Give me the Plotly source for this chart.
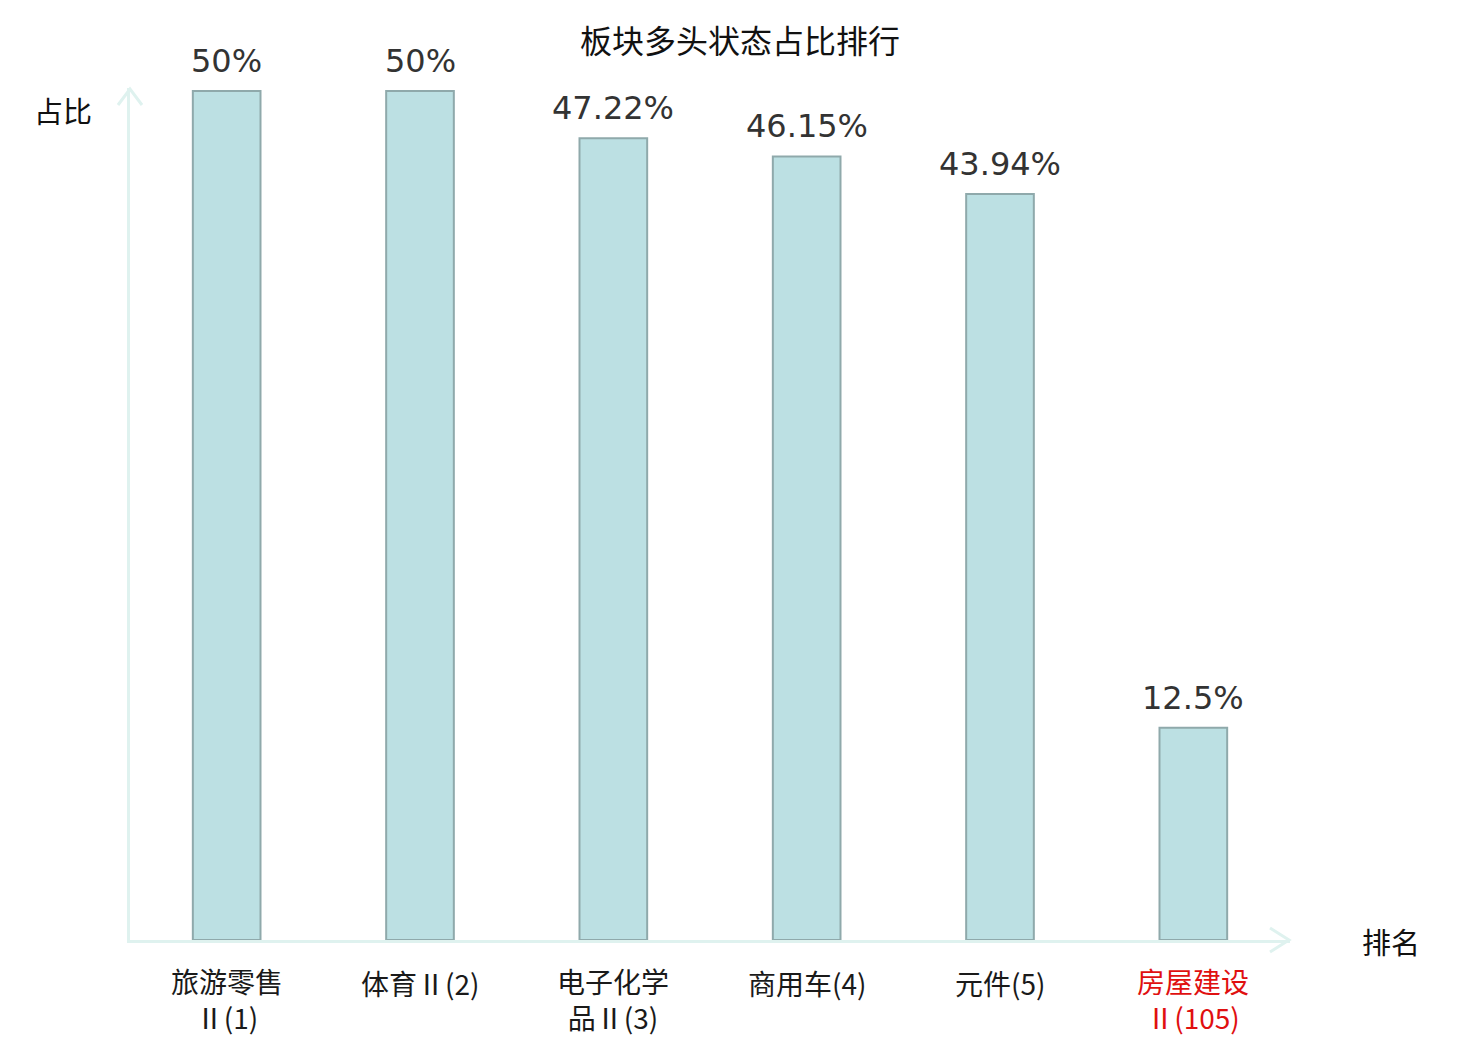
import plotly.graph_objects as go

# 板块多头状态占比排行
categories = ['旅游零售<br>Ⅱ(1)', '体育Ⅱ(2)', '电子化学<br>品Ⅱ(3)', '商用车(4)', '元件(5)', '房屋建设<br>Ⅱ(105)']
ratios = [50, 50, 47.22, 46.15, 43.94, 12.5]
labels = ['50%', '50%', '47.22%', '46.15%', '43.94%', '12.5%']
highlight = [False, False, False, False, False, True]

axis_color = '#dff2ef'
bar_fill = '#bce0e3'
bar_line = '#8fa9ab'
cjk = 'Noto Sans CJK SC'

# the page sits 8px in from the window edge
OFF = 8
FW, FH = 1480 - OFF, 1040 - OFF

# plot area in window pixels: x 130..1290, y 88..940
W, H = 1160, 852
def px(x):
    return (x - 130) / W
def py(y):
    return (940 - y) / H

xs = list(range(len(categories)))

fig = go.Figure()
fig.add_trace(go.Bar(
    x=xs,
    y=ratios,
    width=0.35,
    marker=dict(color=bar_fill, line=dict(color=bar_line, width=2)),
    hoverinfo='skip',
))

# value labels above the bars
for x, r, lab in zip(xs, ratios, labels):
    fig.add_annotation(x=x, y=r, xref='x', yref='y', text=lab, showarrow=False,
                       xanchor='center', yanchor='middle', yshift=30,
                       font=dict(family='DejaVu Sans', size=32, color='#333333'))

# category labels under the axis
for x, name, hl in zip(xs, categories, highlight):
    color = '#e01010' if hl else '#1a1a1a'
    nlines = name.count('<br>') + 1
    fig.add_annotation(x=x, y=0, xref='x', yref='paper', text=name, showarrow=False,
                       xanchor='center', yanchor='middle', yshift=-43 - 16 * (nlines - 1),
                       font=dict(family=cjk, size=28, color=color))

# axis arrowheads
fig.add_shape(type='path', xref='paper', yref='paper',
              path=f'M {px(1270)} {py(928)} L {px(1289)} {py(940)} L {px(1270)} {py(952)}',
              line=dict(color=axis_color, width=3))
fig.add_shape(type='path', xref='paper', yref='paper',
              path=f'M {px(118)} {py(105)} L {px(130)} {py(89)} L {px(142)} {py(105)}',
              line=dict(color=axis_color, width=3))

fig.add_annotation(text='占比', xref='paper', yref='paper', x=px(63), y=py(110),
                   xanchor='center', yanchor='middle', showarrow=False,
                   font=dict(family=cjk, size=29, color='#111111'))
fig.add_annotation(text='排名', xref='paper', yref='paper', x=px(1391), y=py(941),
                   xanchor='center', yanchor='middle', showarrow=False,
                   font=dict(family=cjk, size=29, color='#111111'))

fig.update_layout(
    width=FW, height=FH,
    margin=dict(l=130 - OFF, r=1480 - 1290, t=88 - OFF, b=1040 - 940),
    plot_bgcolor='white', paper_bgcolor='white',
    showlegend=False,
    title=dict(text='板块多头状态占比排行', x=(740 - OFF) / FW, xref='container', xanchor='center',
               y=1 - (42 - OFF) / FH, yref='container', yanchor='middle',
               font=dict(family=cjk, size=32, color='#111111')),
    xaxis=dict(range=[-0.5, len(categories) - 0.5], showgrid=False, zeroline=False,
               showticklabels=False, showline=True, linecolor=axis_color, linewidth=3, ticks=''),
    yaxis=dict(range=[0, 50.18], showgrid=False, zeroline=False, showticklabels=False,
               showline=True, linecolor=axis_color, linewidth=3, ticks=''),
)

fig.write_html('out.html')
